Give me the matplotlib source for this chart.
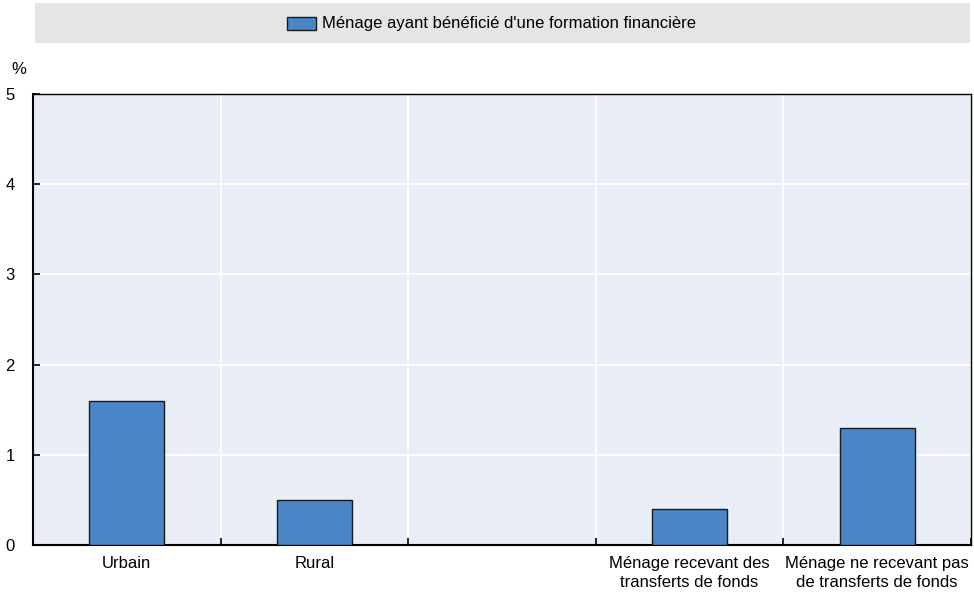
import matplotlib
matplotlib.use("Agg")
import matplotlib.pyplot as plt
from matplotlib.patches import Rectangle

categories = ["Urbain", "Rural", "", "Ménage recevant des\ntransferts de fonds",
              "Ménage ne recevant pas\nde transferts de fonds"]
values = [1.6, 0.5, None, 0.4, 1.3]
series_name = "Ménage ayant bénéficié d'une formation financière"
yticks = [0, 1, 2, 3, 4, 5]

plt.rcParams['font.family'] = ["Liberation Sans", "DejaVu Sans"]

W, H = 974, 594
fig = plt.figure(figsize=(W/100, H/100), dpi=100)
ax = fig.add_axes([33/W, 1-545/H, (971-33)/W, (545-94)/H])

bg = "#e9edf6"
ax.set_facecolor(bg)
n = len(categories)
xs = list(range(n))
for x, v in zip(xs, values):
    if v is not None:
        ax.bar(x, v, width=0.4, color="#4a86c6", edgecolor="#1a1a1a", linewidth=1.0, zorder=3)

ax.set_xlim(-0.5, n-0.5)
ax.set_ylim(0, 5)
ax.set_yticks(yticks)
ax.set_yticklabels([str(t) for t in yticks], fontsize=12)
ax.set_xticks(xs)
ax.set_xticklabels(categories, fontsize=12, linespacing=1.3)
ax.tick_params(axis='x', length=0, pad=8)
ax.set_xticks([i+0.5 for i in range(-1, n)], minor=True)
ax.tick_params(axis='x', which='minor', direction='in', length=5, width=1.2, color='black')
ax.tick_params(axis='y', direction='in', length=5, width=1.2, pad=13, color='black')

ax.grid(axis='y', color='white', linewidth=1.3, zorder=0)
ax.grid(axis='x', which='minor', color='white', linewidth=1.3, zorder=0)
ax.grid(axis='x', which='major', visible=False)
ax.set_axisbelow(True)
for s in ax.spines.values():
    s.set_color('black')
    s.set_linewidth(1.0)
ax.spines['left'].set_linewidth(1.5)
ax.spines['bottom'].set_linewidth(1.5)

fig.text(11/W, 1-70/H, "%", fontsize=12, ha='left', va='center')

# legend box
fig.patches.append(Rectangle((35/W, 1-43/H), (970-35)/W, 40/H, transform=fig.transFigure,
                             facecolor="#e5e5e5", edgecolor='none', zorder=0))
fig.patches.append(Rectangle((287/W, 1-30/H), 29/W, 13/H, transform=fig.transFigure,
                             facecolor="#4a86c6", edgecolor="#1a1a1a", linewidth=1.0, zorder=1))
fig.text(322/W, 1-23.5/H, series_name, fontsize=12, ha='left', va='center')

fig.savefig("out.png", dpi=100)
